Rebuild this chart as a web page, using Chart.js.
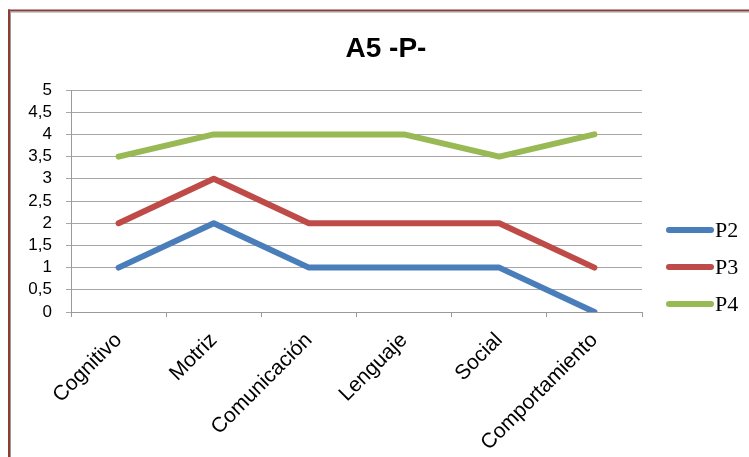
<!DOCTYPE html>
<html>
<head>
<meta charset="utf-8">
<style>
  html, body { margin: 0; padding: 0; background: #ffffff; }
  #wrap { width: 749px; height: 457px; }
</style>
<script src="https://cdn.jsdelivr.net/npm/chart.js@4/dist/chart.umd.min.js"></script>
</head>
<body>
<div id="wrap"><canvas id="c" width="749" height="457"></canvas></div>
<script>
// Areas of development on the horizontal axis
const categories = ['Cognitivo', 'Motriz', 'Comunicación', 'Lenguaje', 'Social', 'Comportamiento'];

// Scores for each series
const p2 = [1, 2, 1, 1, 1, 0];
const p3 = [2, 3, 2, 2, 2, 1];
const p4 = [3.5, 4, 4, 4, 3.5, 4];

const seriesNames = ['P2', 'P3', 'P4'];
const seriesColors = ['#4A7EBB', '#BE4B48', '#98B954'];

// Value axis range and step
const yMin = 0;
const yMax = 5;
const yStep = 0.5;

const chartTitle = 'A5 -P-';

// Frame along the top and left edges, plus the heading
const framePlugin = {
  id: 'frame',
  beforeDraw(chart) {
    const ctx = chart.ctx;
    ctx.save();
    ctx.fillStyle = '#ffffff';
    ctx.fillRect(0, 0, chart.width, chart.height);
    ctx.fillStyle = '#8C3B36';
    ctx.fillRect(8, 9.5, chart.width - 8, 2);
    ctx.fillRect(8, 9.5, 2, chart.height - 9.5);
    ctx.fillStyle = '#9A9A9A';
    ctx.fillRect(10, 11.5, chart.width - 10, 1);
    ctx.fillRect(10, 11.5, 1, chart.height - 11.5);

    ctx.fillStyle = '#000000';
    ctx.font = 'bold 28px "Liberation Sans", Arial, sans-serif';
    ctx.textAlign = 'center';
    ctx.textBaseline = 'alphabetic';
    ctx.fillText(chartTitle, 386, 57);
    ctx.restore();
  }
};

// Legend drawn to the right of the plot
const sideLegendPlugin = {
  id: 'sideLegend',
  afterDraw(chart) {
    const ctx = chart.ctx;
    const x0 = 669, x1 = 711, y0 = 230, gap = 37;
    ctx.save();
    chart.data.datasets.forEach((ds, i) => {
      const y = y0 + i * gap;
      ctx.strokeStyle = ds.borderColor;
      ctx.lineWidth = 6;
      ctx.lineCap = 'round';
      ctx.beginPath();
      ctx.moveTo(x0, y);
      ctx.lineTo(x1, y);
      ctx.stroke();
      ctx.fillStyle = '#000000';
      ctx.font = '22px "Liberation Serif", "Times New Roman", serif';
      ctx.textAlign = 'left';
      ctx.textBaseline = 'middle';
      ctx.fillText(ds.label, x1 + 4, y + 1);
    });
    ctx.restore();
  }
};

const seriesData = [p2, p3, p4];
const datasets = seriesNames.map((name, i) => ({
  label: name,
  data: seriesData[i],
  borderColor: seriesColors[i],
  backgroundColor: seriesColors[i],
  borderWidth: 6,
  borderCapStyle: 'round',
  borderJoinStyle: 'round',
  pointRadius: 0,
  pointHoverRadius: 0,
  tension: 0,
  fill: false
}));

new Chart(document.getElementById('c'), {
  type: 'line',
  data: { labels: categories, datasets },
  plugins: [framePlugin, sideLegendPlugin],
  options: {
    responsive: false,
    animation: false,
    devicePixelRatio: 1,
    layout: { padding: { left: 0, right: 107, top: 90, bottom: 0 } },
    plugins: {
      legend: { display: false },
      tooltip: { enabled: false },
      title: { display: false }
    },
    scales: {
      x: {
        offset: true,
        afterFit(scale) { scale.height = 145; },
        grid: {
          display: true,
          drawOnChartArea: false,
          drawTicks: true,
          tickLength: 5,
          offset: true,
          color: '#9A9A9A'
        },
        border: { display: true, color: '#9A9A9A', width: 1 },
        ticks: {
          autoSkip: false,
          minRotation: 45,
          maxRotation: 45,
          padding: 11,
          color: '#000000',
          font: { family: '"Liberation Sans", Arial, sans-serif', size: 21 }
        }
      },
      y: {
        min: yMin,
        max: yMax,
        afterFit(scale) { scale.width = 71; },
        grid: {
          color: '#A6A6A6',
          lineWidth: 1,
          drawTicks: true,
          tickLength: 5
        },
        border: { display: true, color: '#9A9A9A', width: 1 },
        ticks: {
          stepSize: yStep,
          autoSkip: false,
          padding: 14,
          color: '#000000',
          font: { family: '"Liberation Sans", Arial, sans-serif', size: 17 },
          callback: (v) => String(v).replace('.', ',')
        }
      }
    }
  }
});
</script>
</body>
</html>
